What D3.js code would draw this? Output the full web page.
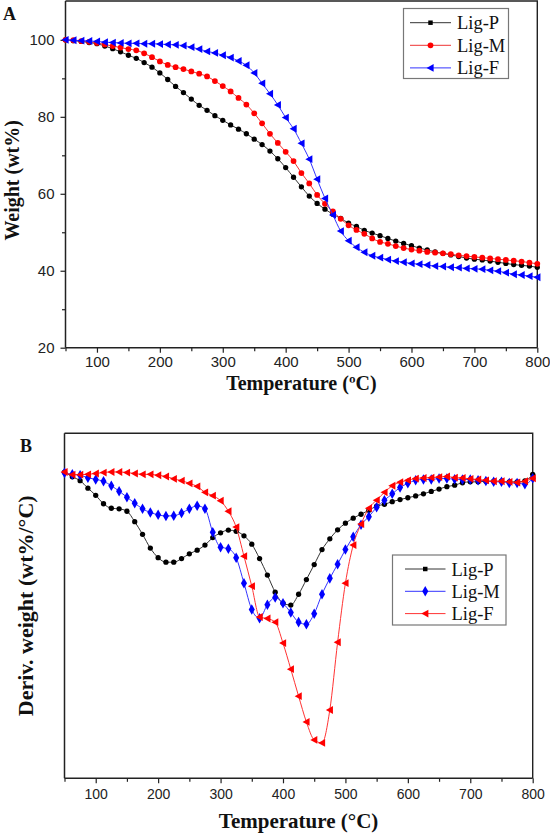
<!DOCTYPE html>
<html><head><meta charset="utf-8">
<script src="https://cdn.jsdelivr.net/npm/d3@7"></script>
<style>
html,body{margin:0;padding:0;background:#fff;}
svg{display:block;}
</style>
</head><body>
<svg id="chart" width="550" height="836"></svg>
<script>
// ---------- DATA ----------
const temps = [50,62.5,75,87.5,100,112.5,125,137.5,150,162.5,175,187.5,200,212.5,225,237.5,250,262.5,275,287.5,300,312.5,325,337.5,350,362.5,375,387.5,400,412.5,425,437.5,450,462.5,475,487.5,500,512.5,525,537.5,550,562.5,575,587.5,600,612.5,625,637.5,650,662.5,675,687.5,700,712.5,725,737.5,750,762.5,775,787.5,800];

// Panel A: TGA weight (wt%)
const tgaLigP = [100,99.8,99.6,99.3,99.0,98.4,97.7,96.9,96.0,95.2,94.1,92.9,91.4,89.7,87.9,86.3,84.6,83.0,81.7,80.3,79.1,77.9,76.8,75.6,74.2,72.8,71.1,69.1,66.8,64.3,61.8,59.4,57.5,56.0,54.7,53.6,52.4,51.5,50.5,49.8,49.1,48.4,47.7,47.1,46.5,45.9,45.4,44.9,44.5,44.1,43.7,43.3,43.0,42.8,42.5,42.2,41.9,41.6,41.4,41.2,40.9];
const tgaLigM = [100,99.9,99.7,99.5,99.2,98.8,98.4,98.0,97.6,97.3,96.5,95.5,94.4,93.5,92.9,92.4,91.8,91.2,90.5,89.3,88.0,86.6,84.9,83.2,80.9,78.3,75.6,73.2,70.9,68.5,65.4,62.7,59.7,57.4,55.4,53.5,51.8,50.6,49.6,48.4,47.5,47.0,46.4,45.9,45.5,45.2,44.9,44.7,44.5,44.3,44.0,43.8,43.6,43.4,43.2,43.0,42.8,42.6,42.4,42.1,41.8];
const tgaLigF = [100,99.9,99.8,99.7,99.6,99.4,99.3,99.2,99.1,99.1,99.0,99.0,98.9,98.8,98.7,98.5,98.1,97.6,97.0,96.6,96.0,95.4,94.5,93.4,91.4,88.7,86.0,83.1,79.8,76.9,73.1,69.0,63.8,58.8,54.5,50.3,47.8,46.1,44.8,43.9,43.4,42.9,42.5,42.2,41.9,41.7,41.5,41.2,41.1,40.9,40.8,40.6,40.5,40.4,40.1,39.9,39.5,39.1,38.9,38.6,38.3];

// Panel B: DTG derivative weight (wt%/°C, arbitrary scale, no tick labels)
const dtgLigP = [0.000,-0.015,-0.028,-0.053,-0.077,-0.105,-0.120,-0.122,-0.130,-0.165,-0.207,-0.253,-0.285,-0.300,-0.300,-0.288,-0.272,-0.260,-0.243,-0.218,-0.202,-0.193,-0.197,-0.212,-0.240,-0.288,-0.343,-0.400,-0.437,-0.443,-0.407,-0.358,-0.308,-0.258,-0.222,-0.192,-0.170,-0.153,-0.140,-0.127,-0.113,-0.107,-0.098,-0.091,-0.085,-0.079,-0.072,-0.064,-0.056,-0.048,-0.043,-0.035,-0.032,-0.032,-0.030,-0.030,-0.030,-0.032,-0.032,-0.029,-0.007];
const dtgLigM = [-0.002,-0.007,-0.010,-0.018,-0.024,-0.030,-0.045,-0.063,-0.083,-0.103,-0.122,-0.134,-0.142,-0.146,-0.145,-0.136,-0.122,-0.112,-0.122,-0.200,-0.250,-0.255,-0.285,-0.370,-0.458,-0.487,-0.442,-0.418,-0.437,-0.468,-0.500,-0.507,-0.472,-0.407,-0.354,-0.307,-0.258,-0.215,-0.175,-0.148,-0.117,-0.093,-0.072,-0.051,-0.037,-0.027,-0.024,-0.024,-0.021,-0.021,-0.023,-0.024,-0.024,-0.027,-0.029,-0.032,-0.032,-0.036,-0.036,-0.040,-0.020];
const dtgLigF = [0.001,-0.008,-0.008,-0.007,-0.004,-0.001,0.001,0.001,-0.001,-0.004,-0.007,-0.007,-0.010,-0.014,-0.022,-0.028,-0.037,-0.047,-0.067,-0.078,-0.095,-0.130,-0.183,-0.280,-0.380,-0.483,-0.488,-0.500,-0.570,-0.657,-0.747,-0.833,-0.893,-0.903,-0.793,-0.567,-0.370,-0.243,-0.173,-0.120,-0.093,-0.067,-0.045,-0.033,-0.027,-0.021,-0.019,-0.018,-0.016,-0.014,-0.018,-0.019,-0.022,-0.024,-0.027,-0.030,-0.030,-0.032,-0.034,-0.030,-0.020];

const seriesNames = ["Lig-P","Lig-M","Lig-F"];
const xMajorTicks = [100,200,300,400,500,600,700,800];
const xMinorTicks = [50,150,250,350,450,550,650,750];
const yMajorTicksA = [20,40,60,80,100];
const yMinorTicksA = [30,50,70,90];

// ---------- DRAW ----------
const svg = d3.select("#chart");
const sansFont = "'Liberation Sans', Arial, sans-serif";
const serifFont = "'Liberation Serif', 'Times New Roman', serif";

const triLeft = {
  draw(ctx, size) {
    const r = Math.sqrt(size) * 0.62;
    ctx.moveTo(-r, 0);
    ctx.lineTo(r * 0.8, -r);
    ctx.lineTo(r * 0.8, r);
    ctx.closePath();
  }
};

function marker(type) {
  if (type === "circle") return d3.symbol(d3.symbolCircle, 22)();
  if (type === "square") return d3.symbol(d3.symbolSquare, 20)();
  if (type === "diamond") return d3.symbol(d3.symbolDiamond, 32)();
  if (type === "cross") return d3.symbol(d3.symbolCircle, 26)();
  return d3.symbol(triLeft, 40)();
}

function panel(cfg) {
  const g = svg.append("g");
  const x = d3.scaleLinear().domain([50, 800]).range([cfg.left, cfg.right]);
  const y = d3.scaleLinear().domain(cfg.yDomain).range([cfg.bottom, cfg.top]);

  // frame (top + right)
  g.append("path")
    .attr("d", `M${cfg.left},${cfg.top}H${cfg.right}V${cfg.bottom}`)
    .attr("fill", "none").attr("stroke", "#222").attr("stroke-width", 1.4);

  // x axis
  const xAxis = g.append("g").attr("transform", `translate(0,${cfg.bottom})`)
    .call(d3.axisBottom(x).tickValues(xMajorTicks).tickSize(5).tickPadding(cfg.xPad).tickFormat(d3.format("d")));
  g.append("g").attr("transform", `translate(0,${cfg.bottom})`)
    .call(d3.axisBottom(x).tickValues(xMinorTicks).tickSize(3.5).tickFormat(""))
    .call(a => a.select(".domain").remove());
  xAxis.select(".domain").attr("d", `M${cfg.left},0H${cfg.right}`);

  // y axis
  let yAxis;
  if (cfg.yMajor) {
    yAxis = g.append("g").attr("transform", `translate(${cfg.left},0)`)
      .call(d3.axisLeft(y).tickValues(cfg.yMajor).tickSize(5).tickPadding(6).tickFormat(d3.format("d")));
    g.append("g").attr("transform", `translate(${cfg.left},0)`)
      .call(d3.axisLeft(y).tickValues(cfg.yMinor).tickSize(3.5).tickFormat(""))
      .call(a => a.select(".domain").remove());
    yAxis.select(".domain").attr("d", `M0,${cfg.top}V${cfg.bottom}`);
  } else {
    yAxis = g.append("g");
    yAxis.append("path").attr("class", "domain").attr("d", `M${cfg.left},${cfg.top}V${cfg.bottom}`);
  }
  g.selectAll(".domain").attr("stroke", "#222").attr("stroke-width", 1.5);
  g.selectAll(".tick line").attr("stroke", "#222").attr("stroke-width", 1.2);
  g.selectAll(".tick text").attr("font-family", sansFont).attr("font-size", cfg.tickFont).attr("fill", "#222");

  // series
  cfg.series.forEach(s => {
    const pts = temps.map((t, i) => [t, s.values[i]]);
    const line = d3.line().x(d => x(d[0])).y(d => y(d[1])).curve(d3.curveMonotoneX);
    g.append("path").datum(pts).attr("d", line)
      .attr("fill", "none").attr("stroke", s.lineColor).attr("stroke-width", 1);
    g.append("g").selectAll("path").data(pts).join("path")
      .attr("transform", d => `translate(${x(d[0])},${y(d[1])})`)
      .attr("d", marker(s.marker)).attr("fill", s.color);
  });

  // legend
  const lg = g.append("g");
  lg.append("rect").attr("x", cfg.legend.x).attr("y", cfg.legend.y)
    .attr("width", cfg.legend.w).attr("height", cfg.legend.h)
    .attr("fill", "#fff").attr("stroke", "#777").attr("stroke-width", 1.2);
  cfg.series.forEach((s, i) => {
    const yy = cfg.legend.y + cfg.legend.first + i * cfg.legend.step;
    const x0 = cfg.legend.x + cfg.legend.lineX0, x1 = cfg.legend.x + cfg.legend.lineX1;
    lg.append("line").attr("x1", x0).attr("x2", x1).attr("y1", yy).attr("y2", yy)
      .attr("stroke", s.lineColor).attr("stroke-width", 1);
    lg.append("path").attr("transform", `translate(${(x0 + x1) / 2},${yy})`)
      .attr("d", marker(s.legendMarker)).attr("fill", s.color);
    lg.append("text").attr("x", x1 + 6).attr("y", yy + 6.5)
      .attr("font-family", serifFont).attr("font-size", cfg.legend.font).attr("fill", "#111")
      .text(s.name);
  });

  // titles
  g.append("text").attr("x", (cfg.left + cfg.right) / 2).attr("y", cfg.xTitleY)
    .attr("text-anchor", "middle").attr("font-family", serifFont).attr("font-weight", "bold")
    .attr("font-size", cfg.xTitleFont).attr("fill", "#111").text(cfg.xTitle);
  g.append("text")
    .attr("transform", `translate(${cfg.yTitleX},${(cfg.top + cfg.bottom) / 2 + cfg.yTitleShift}) rotate(-90)`)
    .attr("text-anchor", "middle").attr("font-family", serifFont).attr("font-weight", "bold")
    .attr("font-size", cfg.yTitleFont).attr("fill", "#111").text(cfg.yTitle);
  g.append("text").attr("x", cfg.panelX).attr("y", cfg.panelY)
    .attr("font-family", serifFont).attr("font-weight", "bold").attr("font-size", 18)
    .attr("fill", "#111").text(cfg.panel);
}

panel({
  left: 65.5, right: 537.3, top: 1, bottom: 347.7,
  yDomain: [20, 110.1], yMajor: yMajorTicksA, yMinor: yMinorTicksA, tickFont: 15, xPad: 4,
  series: [
    {name: seriesNames[0], values: tgaLigP, color: "#000", lineColor: "#333", marker: "circle", legendMarker: "square"},
    {name: seriesNames[1], values: tgaLigM, color: "#ff0000", lineColor: "#e33", marker: "cross", legendMarker: "cross"},
    {name: seriesNames[2], values: tgaLigF, color: "#0000ff", lineColor: "#33f", marker: "tri", legendMarker: "tri"}
  ],
  legend: {x: 403.5, y: 8.5, w: 105, h: 70, first: 14.2, step: 22.6, lineX0: 6.5, lineX1: 47.5, font: 18.5},
  xTitle: "Temperature (ºC)", xTitleY: 390, xTitleFont: 20,
  yTitle: "Weight (wt%)", yTitleX: 19, yTitleShift: 6, yTitleFont: 20,
  panel: "A", panelX: 3, panelY: 20
});

panel({
  left: 64.5, right: 532.7, top: 433.3, bottom: 778.3,
  yDomain: [-1.021, 0.13], yMajor: null, tickFont: 14, xPad: 6,
  series: [
    {name: seriesNames[0], values: dtgLigP, color: "#000", lineColor: "#333", marker: "circle", legendMarker: "square"},
    {name: seriesNames[1], values: dtgLigM, color: "#0000ff", lineColor: "#33f", marker: "diamond", legendMarker: "diamond"},
    {name: seriesNames[2], values: dtgLigF, color: "#ff0000", lineColor: "#f33", marker: "tri", legendMarker: "tri"}
  ],
  legend: {x: 392.5, y: 555, w: 113.5, h: 70, first: 14, step: 22.3, lineX0: 12.5, lineX1: 53, font: 18.5},
  xTitle: "Temperature (°C)", xTitleY: 828, xTitleFont: 21,
  yTitle: "Deriv. weight (wt%/°C)", yTitleX: 33, yTitleShift: 0, yTitleFont: 22,
  panel: "B", panelX: 20, panelY: 452
});
</script>
</body></html>
